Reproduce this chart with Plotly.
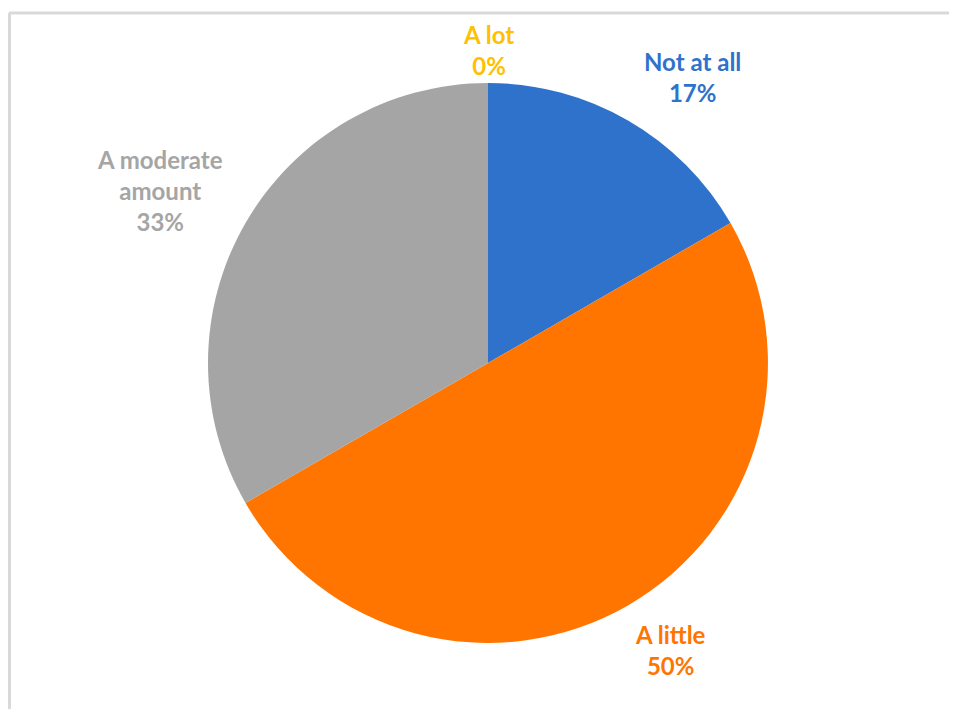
import plotly.graph_objects as go

categories = ["Not at all", "A little", "A moderate amount", "A lot"]
counts = [1, 3, 2, 0]
colors = ["#2F72CC", "#FF7500", "#A5A5A5", "#FFC000"]
label_lines = ["Not at all", "A little", "A moderate<br>amount", "A lot"]

OFF = 8  # page body margin
W, H = 957 - OFF, 709 - OFF


def px_x(x):
    return (x - OFF) / W


def px_y(y):
    return 1 - (y - OFF) / H


cx, cy, r = 488, 363, 280

fig = go.Figure(go.Pie(
    labels=categories,
    values=counts,
    sort=False,
    direction="clockwise",
    rotation=0,
    marker=dict(colors=colors, line=dict(width=0)),
    textinfo="none",
    hoverinfo="label+percent",
    showlegend=False,
    domain=dict(x=[px_x(cx - r), px_x(cx + r)], y=[px_y(cy + r), px_y(cy - r)]),
))

total = sum(counts)
label_pos = [(692, 77), (670, 650), (160, 190), (488, 50)]
for name, v, col, (px, py) in zip(label_lines, counts, colors, label_pos):
    pct = round(100 * v / total)
    fig.add_annotation(
        x=px_x(px), y=px_y(py), xref="paper", yref="paper",
        text=f"<b>{name}<br>{pct}%</b>", showarrow=False,
        font=dict(family="Lato", size=24, color=col),
        align="center", xanchor="center", yanchor="middle",
    )

fig.add_shape(type="line", xref="paper", yref="paper",
              x0=px_x(9), x1=1.01, y0=px_y(13), y1=px_y(13),
              line=dict(color="#D9D9D9", width=3))
fig.add_shape(type="line", xref="paper", yref="paper",
              x0=px_x(9.5), x1=px_x(9.5), y0=px_y(13), y1=-0.01,
              line=dict(color="#D9D9D9", width=3))

fig.update_layout(
    width=W, height=H,
    margin=dict(l=0, r=0, t=0, b=0),
    paper_bgcolor="white", plot_bgcolor="white",
)

fig.write_html("out.html")
